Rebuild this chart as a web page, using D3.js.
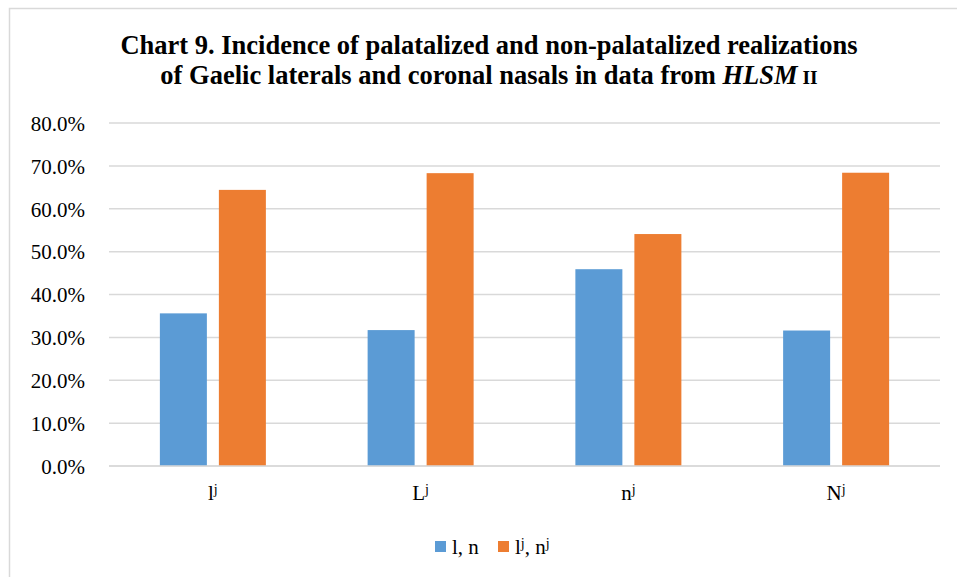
<!DOCTYPE html>
<html>
<head>
<meta charset="utf-8">
<script src="https://cdn.jsdelivr.net/npm/d3@7"></script>
<style>
  body { margin: 0; background: #fff; }
</style>
</head>
<body>
<svg id="chart"></svg>
<script>
// categories: base letter + superscript
var categories = [["l", "j"], ["L", "j"], ["n", "j"], ["N", "j"]];
var plainValues = [0.356, 0.317, 0.459, 0.316];   // l, n
var palatalValues = [0.644, 0.683, 0.541, 0.684]; // lʲ, nʲ
var yTicks = [0, 0.1, 0.2, 0.3, 0.4, 0.5, 0.6, 0.7, 0.8];
var seriesColors = ["#5b9bd5", "#ed7d31"];

var FONT = "'Liberation Serif', 'Times New Roman', Tinos, 'DejaVu Serif', serif";
var width = 957, height = 577;
var padding = {left: 109, right: 17, top: 123, bottom: 111};

var svg = d3.select("#chart")
  .attr("width", width)
  .attr("height", height)
  .style("font-family", FONT);

// chart frame (only top and left edges show)
svg.append("path")
  .attr("d", "M9.5," + height + "V8.5H" + width)
  .attr("fill", "none")
  .attr("stroke", "#d9d9d9")
  .attr("stroke-width", 1.5);

// title
var title = svg.append("text")
  .attr("text-anchor", "middle")
  .attr("font-family", FONT)
  .attr("font-weight", "bold")
  .attr("font-size", "26.5px");
title.append("tspan").attr("x", 489).attr("y", 54)
  .text("Chart 9. Incidence of palatalized and non-palatalized realizations");
var t2 = title.append("tspan").attr("x", 489).attr("y", 84);
t2.append("tspan").text("of Gaelic laterals and coronal nasals in data from ");
t2.append("tspan").attr("font-style", "italic").text("HLSM");
t2.append("tspan").attr("font-size", "19.5px").text(" II");

var x0 = d3.scaleBand()
  .domain(d3.range(categories.length))
  .range([padding.left, width - padding.right]);

// two bars 47px wide with a 12px gap, centred in each band
var x1 = d3.scaleBand()
  .domain([0, 1])
  .range([x0.bandwidth() / 2 - 53, x0.bandwidth() / 2 + 53])
  .paddingInner(12 / 59);

var y = d3.scaleLinear()
  .domain([0, 0.8])
  .range([height - padding.bottom, padding.top]);

// gridlines
svg.append("g")
  .selectAll("line")
  .data(yTicks)
  .join("line")
  .attr("x1", padding.left)
  .attr("x2", width - padding.right)
  .attr("y1", function(d) { return y(d); })
  .attr("y2", function(d) { return y(d); })
  .attr("stroke", "#d9d9d9")
  .attr("stroke-width", 1.5);

// y axis labels
var yAxis = d3.axisLeft(y)
  .tickValues(yTicks)
  .tickSize(0)
  .tickPadding(24)
  .tickFormat(d3.format(".1%"));
var gy = svg.append("g")
  .attr("transform", "translate(" + padding.left + ",0)")
  .call(yAxis)
  .attr("font-family", FONT)
  .attr("font-size", "21px");
gy.select(".domain").remove();
gy.selectAll("text")
  .attr("fill", "#000")
  .attr("dy", "0.35em");

// bars
var groups = svg.append("g")
  .selectAll("g")
  .data(categories.map(function(c, i) { return [plainValues[i], palatalValues[i]]; }))
  .join("g")
  .attr("transform", function(d, i) { return "translate(" + x0(i) + ",0)"; });

groups.selectAll("rect")
  .data(function(d) { return d; })
  .join("rect")
  .attr("x", function(d, i) { return x1(i); })
  .attr("width", x1.bandwidth())
  .attr("y", function(d) { return y(d); })
  .attr("height", function(d) { return y(0) - y(d); })
  .attr("fill", function(d, i) { return seriesColors[i]; });

// baseline over the bars
svg.append("line")
  .attr("x1", padding.left)
  .attr("x2", width - padding.right)
  .attr("y1", y(0))
  .attr("y2", y(0))
  .attr("stroke", "#d9d9d9")
  .attr("stroke-width", 1.5);

// category labels
var cat = svg.append("g")
  .attr("font-family", FONT)
  .selectAll("text")
  .data(categories)
  .join("text")
  .attr("x", function(d, i) { return x0(i) + x0.bandwidth() / 2; })
  .attr("y", 500)
  .attr("text-anchor", "middle")
  .attr("font-size", "21px");
cat.append("tspan").text(function(d) { return d[0]; });
cat.append("tspan")
  .attr("font-size", "14px")
  .attr("dy", "-6")
  .text(function(d) { return d[1]; });

// legend
var legend = svg.append("g").attr("font-family", FONT).attr("font-size", "21px");
legend.append("rect").attr("x", 435).attr("y", 541).attr("width", 11).attr("height", 11).attr("fill", seriesColors[0]);
legend.append("text").attr("x", 452).attr("y", 554).text("l, n");
legend.append("rect").attr("x", 498).attr("y", 541).attr("width", 11).attr("height", 11).attr("fill", seriesColors[1]);
var lt = legend.append("text").attr("x", 515).attr("y", 554);
lt.append("tspan").text("l");
lt.append("tspan").attr("font-size", "14px").attr("dy", "-6").text("j");
lt.append("tspan").attr("dy", "6").text(", n");
lt.append("tspan").attr("font-size", "14px").attr("dy", "-6").text("j");
</script>
</body>
</html>
